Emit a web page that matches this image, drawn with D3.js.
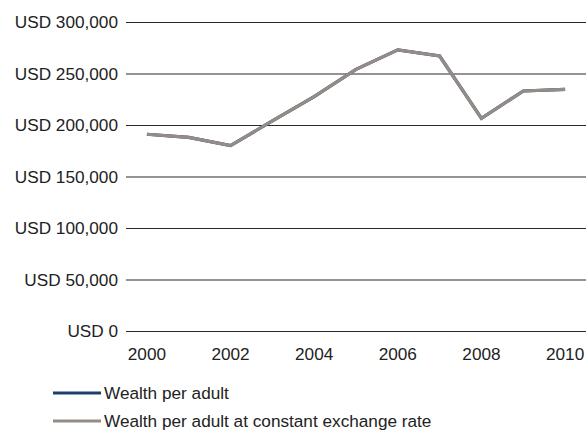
<!DOCTYPE html>
<html><head><meta charset="utf-8">
<script src="https://cdn.jsdelivr.net/npm/d3@7"></script>
<style>body{margin:0;background:#fff}text{font-family:"Liberation Sans",Arial,sans-serif;fill:#222}</style>
</head><body><svg id="c" width="588" height="432"></svg>
<script>
const years = [2000,2001,2002,2003,2004,2005,2006,2007,2008,2009,2010];
const wealthPerAdult = [191000,188000,180000,204000,227500,254000,273000,267000,206500,233000,234600];
const wealthConstant = [191000,188000,180000,204000,227500,254000,273000,267000,206500,233000,234600];
const yTicks = [0,50000,100000,150000,200000,250000,300000];
const xTickLabels = [2000,2002,2004,2006,2008,2010];
const seriesNames = ["Wealth per adult","Wealth per adult at constant exchange rate"];
const seriesColors = ["#1d3f6e","#958c85"];

const FS = "17.2px";
const svg = d3.select("#c");
const x = d3.scaleBand().domain(years).range([126,586]);
const y = d3.scaleLinear().domain([0,300000]).range([331,22]);
const fmt = v => "USD " + d3.format(",")(v);

const ya = svg.append("g").attr("transform","translate(126,0)")
  .call(d3.axisLeft(y).tickValues(yTicks).tickSize(-460).tickPadding(8).tickFormat(fmt));
ya.select(".domain").remove();
ya.selectAll(".tick line").attr("stroke","#2a2a2a").attr("stroke-width",1.2);
ya.selectAll(".tick text").attr("font-size",FS).attr("fill","#222").style("font-family","Liberation Sans, Arial, sans-serif");

const xa = svg.append("g").attr("transform","translate(0,331)")
  .call(d3.axisBottom(x).tickValues(xTickLabels).tickSize(0).tickPadding(17));
xa.select(".domain").remove();
xa.selectAll(".tick text").attr("font-size",FS).attr("fill","#222").style("font-family","Liberation Sans, Arial, sans-serif");

const line = d3.line().x((d,i)=>x(years[i])+x.bandwidth()/2).y(d=>y(d));
[wealthPerAdult, wealthConstant].forEach((s,k)=>{
  svg.append("path").datum(s).attr("d",line).attr("fill","none")
    .attr("stroke",seriesColors[k]).attr("stroke-width",3.2).attr("stroke-linejoin","miter");
});

seriesNames.forEach((n,k)=>{
  const ly = 393 + k*28;
  svg.append("line").attr("x1",53).attr("x2",101).attr("y1",ly).attr("y2",ly)
    .attr("stroke",seriesColors[k]).attr("stroke-width",3.2);
  svg.append("text").attr("x",104).attr("y",ly).attr("dy","0.35em")
    .attr("font-size",FS).text(n);
});
</script></body></html>
